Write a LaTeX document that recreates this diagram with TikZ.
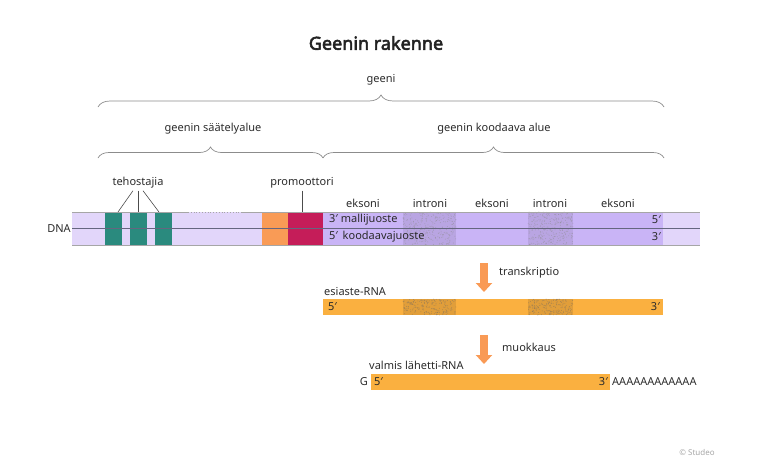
\documentclass[tikz,border=0pt]{standalone}
\usepackage{fontspec}
\setmainfont{Noto Sans}
\newfontfamily\titlefont{Noto Sans}[UprightFeatures = {FakeBold = 3}]
\usetikzlibrary{positioning, arrows.meta, decorations.pathreplacing}

\definecolor{txt}{HTML}{2B2B2B}
\definecolor{dnalight}{HTML}{E2D6FA}
\definecolor{dnacode}{HTML}{C9B4F6}
\definecolor{enhteal}{HTML}{2A8A7E}
\definecolor{promorange}{HTML}{F99B56}
\definecolor{promred}{HTML}{C51D59}
\definecolor{rnaorange}{HTML}{FAB040}
\definecolor{arrorange}{HTML}{F99A55}
\definecolor{midline}{HTML}{65667F}

\tikzset{
	lbl/.style = {text = txt, font = \fontsize{11}{13}\selectfont, inner sep = 0pt},
	gbrace/.style = {draw = black!45, line width = 0.7pt, decorate, decoration = {brace, amplitude = 11pt}},
	pointer/.style = {draw = black!70, line width = 0.6pt},
	bigarrow/.style = {draw = arrorange, line width = 8pt, -{Triangle[width = 16pt, length = 9pt]}},
}

\begin{document}
\begin{tikzpicture}[x = 1pt, y = -1pt, > = latex]

	\pgfmathsetseed{2718}	% fixed seed so the intron stipple stays the same

	% Definitions

	\def\dT{212}		% DNA top
	\def\dM{228.5}		% DNA middle line
	\def\dB{245}		% DNA bottom

	\useasboundingbox (0, 0) rectangle (776, 458);

	% Title and braces

	\node [text = txt!80!black, font = \titlefont\fontsize{18}{22}\selectfont, inner sep = 0pt] (title) at (376, 43) {Geenin rakenne};
	\node [lbl] (geeni) at (381, 80) {geeni};
	\draw [gbrace, decoration = {amplitude = 12pt}] (98, 107) -- (664, 107);
	\node [lbl] (saately) at (213, 129) {geenin säätelyalue};
	\node [lbl] (koodaava) at (494, 129) {geenin koodaava alue};
	\draw [gbrace] (98, 158) -- (323, 158);
	\draw [gbrace] (323, 158) -- (664, 158);

	% DNA strand

	\fill [dnalight] (72, \dT) rectangle (323, \dB);
	\foreach \a/\b in {105/122, 130/147, 155/172}
		\fill [enhteal] (\a, \dT) rectangle (\b, \dB);
	\fill [promorange] (262, \dT) rectangle (288, \dB);
	\fill [promred] (288, \dT) rectangle (323, \dB);
	\fill [dnacode] (323, \dT) rectangle (663, \dB);
	\fill [dnalight] (663, \dT) rectangle (700, \dB);
	\foreach \a/\b in {403/456, 528/573} {
		\fill [dnacode!92!black] (\a, \dT) rectangle (\b, \dB);
		\foreach \i in {1, ..., 320}
			\fill [black!45, opacity = 0.45] ({\a + (\b - \a) * rnd}, {\dT + (\dB - \dT) * rnd}) circle (0.5pt);
	}
	\draw [black!35, line width = 0.8pt] (72, \dT) -- (188, \dT) (242, \dT) -- (700, \dT);
	\draw [black!35, line width = 0.8pt, dotted] (188, \dT) -- (242, \dT);
	\draw [black!35, line width = 0.8pt] (72, \dB) -- (700, \dB);
	\draw [midline, line width = 0.8pt] (72, \dM) -- (700, \dM);

	\node [lbl] (dna) at (59, 229) {DNA};
	\node [lbl, anchor = west] (malli) at (329, 220) {3′ mallijuoste};
	\node [lbl, anchor = west] (koodaus) at (329, 237) {5′\, koodaavajuoste};
	\node [lbl, anchor = east] (malli end) at (661, 220) {5′};
	\node [lbl, anchor = east] (koodaus end) at (661, 237) {3′};

	\foreach \x/\t [count = \n] in {363/eksoni, 430/introni, 492/eksoni, 550/introni, 618/eksoni}
		\node [lbl] (seg\n) at (\x, 203) {\t};

	% Enhancers and promoter

	\node [lbl] (tehostajia) at (138, 183) {tehostajia};
	\node [lbl] (promoottori) at (302, 183) {promoottori};
	\coordinate (enh1) at (118, \dT);
	\coordinate (enh2) at (138, \dT);
	\coordinate (enh3) at (159, \dT);
	\coordinate (prom) at (302, \dT);
	\draw [pointer] ([xshift = -5pt, yshift = -2pt]tehostajia.south) -- (enh1);
	\draw [pointer] ([yshift = -2pt]tehostajia.south) -- (enh2);
	\draw [pointer] ([xshift = 5pt, yshift = -2pt]tehostajia.south) -- (enh3);
	\draw [pointer] ([yshift = -2pt]promoottori.south) -- (prom);

	% Transcription

	\coordinate (tr top) at (484, 263);
	\coordinate (tr tip) at (484, 292);
	\draw [bigarrow] (tr top) -- (tr tip);
	\node [lbl, anchor = west] (transkriptio) at (499, 273) {transkriptio};

	\node [lbl, anchor = west] (esiaste) at (324, 291) {esiaste-RNA};
	\fill [rnaorange] (323, 299) rectangle (663, 315);
	\foreach \a/\b in {403/456, 528/573} {
		\fill [rnaorange!90!black] (\a, 299) rectangle (\b, 315);
		\foreach \i in {1, ..., 200}
			\fill [black!60, opacity = 0.4] ({\a + (\b - \a) * rnd}, {299 + 16 * rnd}) circle (0.5pt);
	}
	\node [lbl, anchor = west] (pre five) at (328, 307) {5′};
	\node [lbl, anchor = east] (pre three) at (660, 307) {3′};

	% Processing

	\coordinate (mu top) at (484, 335);
	\coordinate (mu tip) at (484, 364);
	\draw [bigarrow] (mu top) -- (mu tip);
	\node [lbl, anchor = west] (muokkaus) at (502, 347) {muokkaus};

	\node [lbl, anchor = west] (valmis) at (369, 365) {valmis lähetti-RNA};
	\fill [rnaorange] (371, 374) rectangle (610, 390);
	\node [lbl, anchor = east] (cap) at (368, 382) {G};
	\node [lbl, anchor = west] (m five) at (374, 382) {5′};
	\node [lbl, anchor = east] (m three) at (608, 382) {3′};
	\node [lbl, anchor = west] (polya) at (612, 382) {AAAAAAAAAAAA};

	\node [text = black!35, font = \fontsize{8}{9}\selectfont, inner sep = 0pt] (credit) at (697, 452) {© Studeo};

\end{tikzpicture}
\end{document}
